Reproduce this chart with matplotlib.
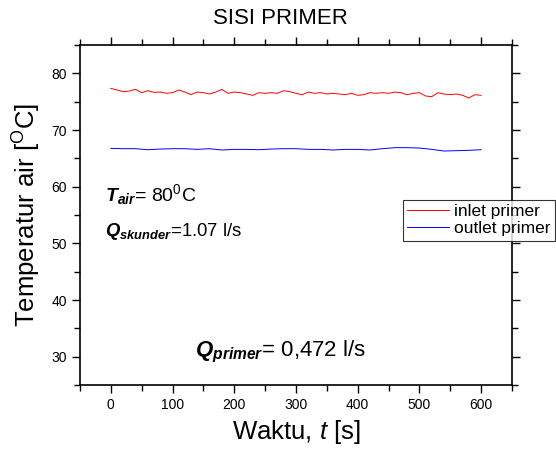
import matplotlib
matplotlib.use("Agg")
import matplotlib.pyplot as plt
import numpy as np

# data (t in seconds, temperature in degC)
t_inlet = np.arange(0, 601, 10)
inlet_primer = [77.35, 77.06, 76.76, 76.88, 77.17, 76.59, 76.94, 76.64, 76.70, 76.47,
                76.59, 77.06, 76.70, 76.23, 76.70, 76.59, 76.35, 76.70, 77.17, 76.47,
                76.70, 76.59, 76.35, 76.12, 76.59, 76.47, 76.59, 76.47, 76.94, 76.76,
                76.47, 76.23, 76.70, 76.47, 76.59, 76.35, 76.47, 76.35, 76.23, 76.47,
                76.12, 76.23, 76.59, 76.47, 76.59, 76.47, 76.70, 76.59, 76.23, 76.47,
                76.59, 76.00, 75.88, 76.59, 76.35, 76.23, 76.35, 76.12, 75.65, 76.23,
                76.12]
t_outlet = np.arange(0, 601, 20)
outlet_primer = [66.76, 66.70, 66.70, 66.52, 66.64, 66.70, 66.70, 66.58, 66.70, 66.47,
                 66.58, 66.58, 66.52, 66.64, 66.70, 66.70, 66.58, 66.58, 66.47, 66.58,
                 66.58, 66.47, 66.70, 66.88, 66.88, 66.82, 66.58, 66.29, 66.35, 66.41,
                 66.52]

fam = ["Liberation Sans", "DejaVu Sans"]
plt.rcParams["font.family"] = fam
plt.rcParams["mathtext.fontset"] = "custom"
plt.rcParams["mathtext.rm"] = "Liberation Sans"
plt.rcParams["mathtext.it"] = "Liberation Sans:italic"
plt.rcParams["mathtext.bf"] = "Liberation Sans:bold"
plt.rcParams["mathtext.bfit"] = "Liberation Sans:italic:bold"

fig = plt.figure(figsize=(5.56, 4.53), dpi=100)
ax = fig.add_axes([80 / 556, 68 / 453, 432 / 556, 340 / 453])

ax.plot(t_inlet, inlet_primer, color="red", lw=0.7, label="inlet primer")
ax.plot(t_outlet, outlet_primer, color="blue", lw=0.7, label="outlet primer")

ax.set_xlim(-50, 650)
ax.set_ylim(25, 85)
ax.set_xticks(np.arange(0, 601, 100))
ax.set_xticks(np.arange(-50, 651, 50), minor=True)
ax.set_yticks(np.arange(30, 81, 10))
ax.set_yticks(np.arange(25, 86, 5), minor=True)
ax.tick_params(which="both", direction="out", top=True, right=True,
               labelsize=10, width=1, color="black")
ax.tick_params(which="major", length=6)
ax.tick_params(which="minor", length=4)
for s in ax.spines.values():
    s.set_linewidth(1.2)

# title sits a bit left of centre in the original
ax.text(0.463, 1.0, "SISI PRIMER", transform=ax.transAxes, fontsize=16,
        ha="center", va="bottom").set_y(1.0 + 16 / 340)
ax.set_xlabel(r"Waktu, $\mathit{t}$ [s]", fontsize=18.5, labelpad=4)
ax.set_ylabel(r"Temperatur air [$^{\mathrm{O}}$C]", fontsize=18.5, labelpad=6)

ax.text(-9, 57.5, r"$\mathbfit{T}_{\mathbfit{air}}$= 80$^{\mathrm{0}}$C", fontsize=14,
        ha="left", va="baseline")
ax.text(-9, 51.3, r"$\mathbfit{Q}_{\mathbfit{skunder}}$=1.07 l/s", fontsize=13.3,
        ha="left", va="baseline")
ax.text(137, 30.0, r"$\mathbfit{Q}_{\mathbfit{primer}}$= 0,472 l/s", fontsize=16,
        ha="left", va="baseline")

leg = ax.legend(loc="upper left", bbox_to_anchor=(403 / 556, 1 - 200 / 453),
                bbox_transform=fig.transFigure, fontsize=12.5, frameon=True,
                fancybox=False, borderaxespad=0, handlelength=2.4,
                borderpad=0.25, labelspacing=0.1, handletextpad=0.3)
leg.get_frame().set_edgecolor("black")
leg.get_frame().set_linewidth(0.8)

fig.savefig("out.png", dpi=100)
